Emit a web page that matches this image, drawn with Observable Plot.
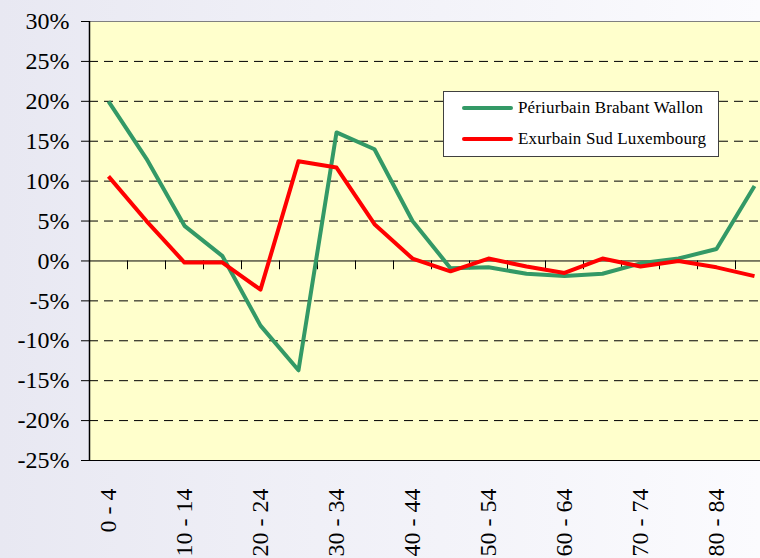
<!DOCTYPE html>
<html><head><meta charset="utf-8">
<script src="https://cdn.jsdelivr.net/npm/d3@7"></script>
<script src="https://cdn.jsdelivr.net/npm/@observablehq/plot@0.6"></script>
<style>
html,body{margin:0;padding:0;overflow:hidden;width:760px;height:558px;}
body{background:linear-gradient(to right,#e8e8f2,#fbfbfe);position:relative;font-family:"Liberation Serif",LiberationSerif,Tinos,"Times New Roman",Times,"Nimbus Roman","Noto Serif","DejaVu Serif",FreeSerif,serif;}
#chart{position:absolute;left:0;top:0;}
#chart svg{max-width:none !important;}
#legend{position:absolute;left:443px;top:91px;width:274px;height:64px;background:#fff;border:1px solid #404040;}
.row{position:absolute;left:0;height:20px;display:flex;align-items:center;font-size:17px;letter-spacing:0.15px;color:#000;white-space:nowrap;}
.swatch{display:inline-block;width:51px;height:4px;border-radius:2px;margin-left:18px;margin-right:5px;}
</style></head><body><div id="chart"></div><div id="legend"></div>
<script>
const categories = ["0 - 4","5 - 9","10 - 14","15 - 19","20 - 24","25 - 29","30 - 34","35 - 39","40 - 44","45 - 49","50 - 54","55 - 59","60 - 64","65 - 69","70 - 74","75 - 79","80 - 84","85 - 89"];
const periurbain = [20.0, 12.8, 4.4, 0.6, -8.1, -13.7, 16.1, 14.0, 5.0, -0.9, -0.8, -1.6, -1.9, -1.6, -0.3, 0.3, 1.5, 9.4];
const exurbain = [10.6, 5.0, -0.2, -0.2, -3.6, 12.5, 11.7, 4.6, 0.3, -1.3, 0.3, -0.7, -1.5, 0.3, -0.7, 0.0, -0.8, -1.9];
const yTicks = [-25, -20, -15, -10, -5, 0, 5, 10, 15, 20, 25, 30];
const seriesNames = ["Périurbain Brabant Wallon", "Exurbain Sud Luxembourg"];
const seriesColors = ["#339966", "#ff0000"];

const idx = categories.map((c, i) => i);
const greenData = idx.map(i => ({i, v: periurbain[i]}));
const redData = idx.map(i => ({i, v: exurbain[i]}));
const boundaries = idx.slice(0, -1).map(i => i + 0.5);
const labelTicks = idx.filter(i => i % 2 === 0);
const serif = "'Liberation Serif',LiberationSerif,Tinos,'Times New Roman',Times,'Nimbus Roman','Noto Serif','DejaVu Serif',FreeSerif,serif";

const chart = Plot.plot({
  width: 776, height: 558,
  marginLeft: 89, marginRight: 3, marginTop: 21, marginBottom: 98,
  x: {type: "linear", domain: [-0.5, categories.length - 0.5]},
  y: {domain: [-25, 30]},
  style: {background: "transparent", fontFamily: serif, fontSize: "24px", color: "#000", overflow: "visible", maxWidth: "none"},
  marks: [
    Plot.frame({fill: "#ffffcc", stroke: "none"}),
    Plot.ruleY(yTicks.filter(v => v !== 0 && v !== -25 && v !== 30), {stroke: "#000", strokeDasharray: "9,6", strokeWidth: 1}),
    Plot.ruleY([30], {stroke: "#808080", strokeWidth: 1}),
    Plot.ruleY([0, -25], {stroke: "#000", strokeWidth: 1}),
    Plot.ruleX([-0.5], {stroke: "#000", strokeWidth: 1.5}),
    Plot.ruleX(boundaries, {x: d => d, y1: 0, y2: -1.1, stroke: "#000", strokeWidth: 1}),
    Plot.line(greenData, {x: "i", y: "v", stroke: seriesColors[0], strokeWidth: 4, strokeLinejoin: "round", strokeLinecap: "butt"}),
    Plot.line(redData, {x: "i", y: "v", stroke: seriesColors[1], strokeWidth: 4, strokeLinejoin: "round", strokeLinecap: "butt"}),
    Plot.axisY({ticks: yTicks, tickSize: 8, tickPadding: 12, tickFormat: d => d + "%", fontSize: 24, fontFamily: serif, label: null}),
    Plot.axisX({ticks: labelTicks, tickFormat: i => categories[i], tickRotate: -90, tickSize: 0, tickPadding: 28, fontSize: 24, fontFamily: serif, label: null})
  ]
});
document.getElementById("chart").appendChild(chart);

const legend = document.getElementById("legend");
const rowTops = [6, 37];
seriesNames.forEach((name, k) => {
  const row = document.createElement("div");
  row.className = "row";
  row.style.top = rowTops[k] + "px";
  const sw = document.createElement("span");
  sw.className = "swatch";
  sw.style.background = seriesColors[k];
  const t = document.createElement("span");
  t.textContent = name;
  row.appendChild(sw); row.appendChild(t);
  legend.appendChild(row);
});
</script></body></html>
